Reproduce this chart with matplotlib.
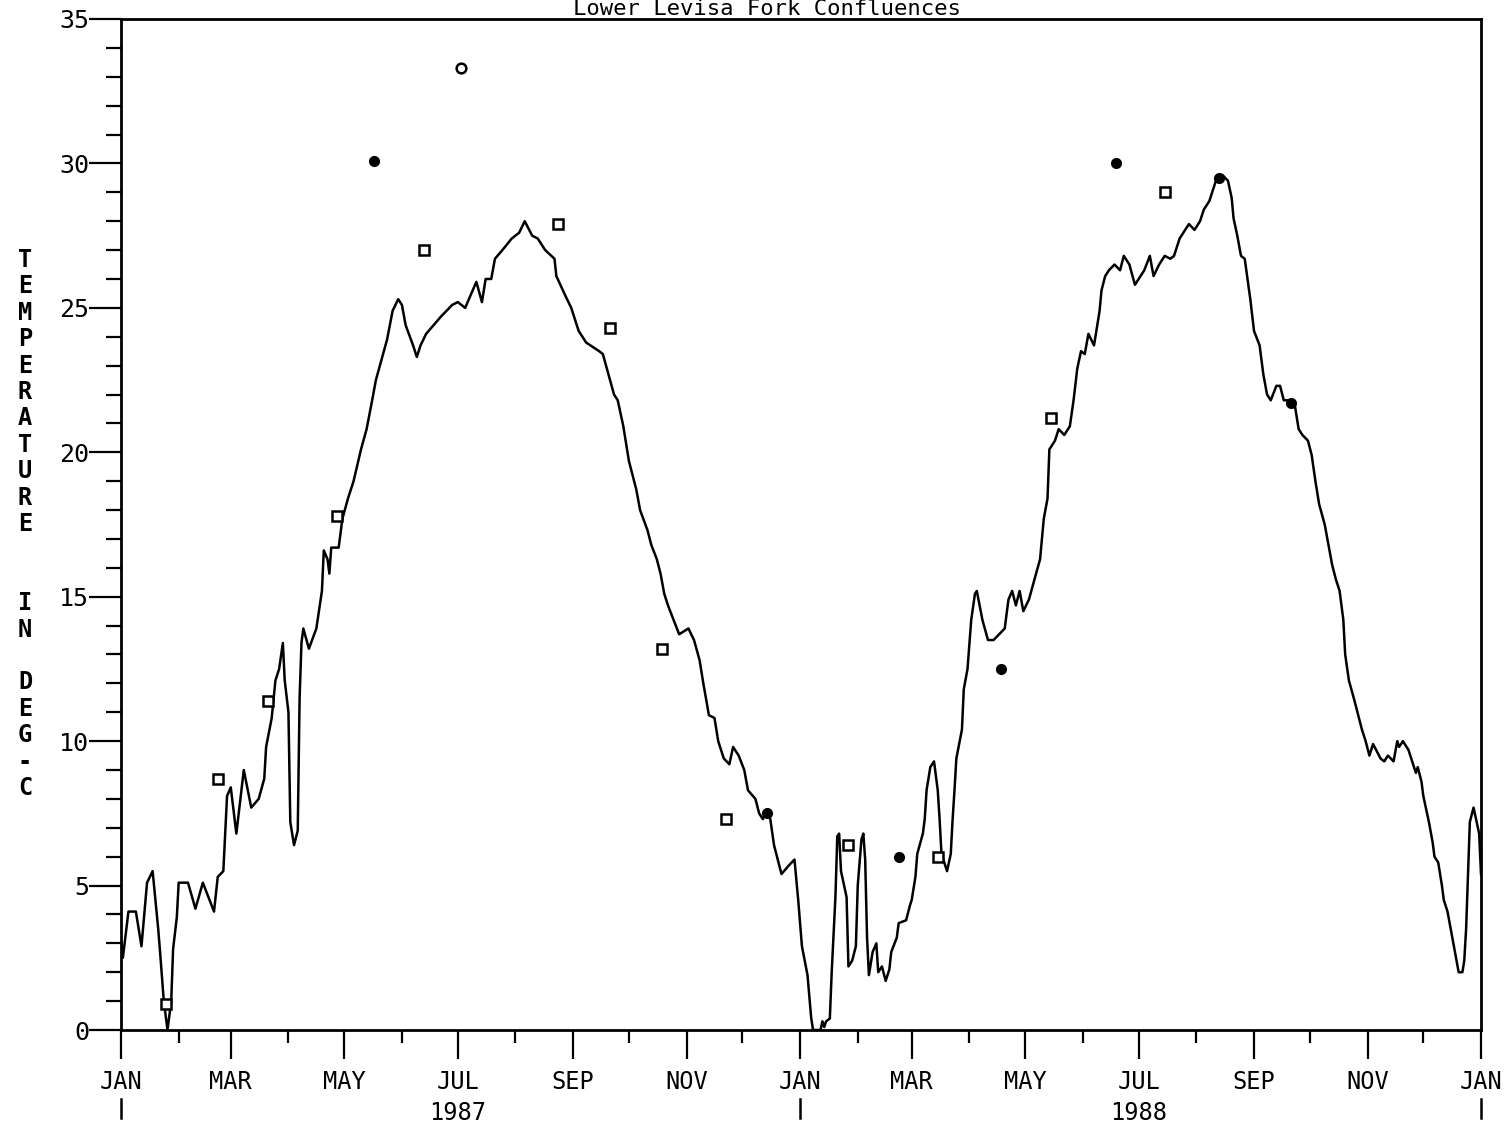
import pandas as pd
import matplotlib
matplotlib.use("Agg")
import matplotlib.pyplot as plt
import matplotlib.dates as mdates

# Titulo e rotulos
titulo = "Lower Levisa Fork Confluences"
inicio = pd.Timestamp("1987-01-01")
fim = pd.Timestamp("1989-01-01")

# Serie diaria (dias desde 1 jan 1987, temperatura em graus C)
dias = [0, 1, 4, 8, 11, 14, 17, 20, 21, 23,
        25, 27, 28, 30, 31, 36, 40, 44, 50, 52,
        55, 57, 59, 62, 66, 70, 74, 77, 78, 81,
        83, 85, 87, 88, 90, 91, 93, 95, 96, 97,
        98, 101, 105, 108, 109, 111, 112, 113, 117, 119,
        122, 125, 129, 132, 135, 137, 140, 143, 146, 149,
        151, 153, 157, 159, 161, 164, 168, 172, 178, 181,
        185, 187, 191, 194, 196, 199, 201, 205, 210, 214,
        217, 221, 224, 228, 233, 234, 239, 242, 246, 250,
        257, 259, 262, 265, 267, 270, 273, 277, 279, 283,
        285, 288, 290, 292, 294, 297, 300, 305, 308, 311,
        313, 316, 319, 321, 324, 327, 329, 332, 335, 337,
        341, 343, 345, 347, 349, 351, 355, 359, 362, 364,
        366, 369, 371, 372, 376, 377, 378, 379, 381, 382,
        384, 385, 386, 387, 390, 391, 393, 395, 396, 398,
        399, 400, 401, 402, 404, 406, 407, 409, 411, 413,
        414, 417, 418, 422, 424, 425, 427, 428, 431, 432,
        433, 435, 437, 439, 440, 441, 444, 446, 447, 448,
        449, 452, 453, 455, 457, 459, 460, 463, 466, 469,
        475, 477, 479, 481, 483, 485, 488, 491, 494, 496,
        498, 499, 502, 504, 507, 510, 512, 514, 516, 518,
        520, 523, 526, 527, 529, 531, 534, 537, 539, 542,
        545, 547, 550, 553, 555, 558, 561, 564, 566, 569,
        572, 574, 577, 580, 582, 585, 587, 589, 592, 595,
        597, 598, 600, 602, 604, 607, 609, 612, 614, 616,
        618, 621, 623, 625, 628, 631, 633, 635, 638, 640,
        642, 644, 647, 649, 651, 653, 655, 657, 658, 660,
        663, 665, 667, 669, 671, 673, 677, 679, 681, 684,
        686, 687, 689, 692, 694, 696, 697, 699, 700, 702,
        703, 705, 706, 708, 710, 711, 713, 715, 717, 719,
        721, 722, 723, 724, 725, 727, 728, 730, 731]
temperatura = [3.1, 2.5, 4.1, 4.1, 2.9, 5.1, 5.5, 3.5, 2.7, 1.0,
               0.0, 1.0, 2.8, 3.9, 5.1, 5.1, 4.2, 5.1, 4.1, 5.3,
               5.5, 8.1, 8.4, 6.8, 9.0, 7.7, 8.0, 8.7, 9.8, 10.8,
               12.1, 12.5, 13.4, 12.1, 11.0, 7.2, 6.4, 6.9, 11.5, 13.4,
               13.9, 13.2, 13.9, 15.2, 16.6, 16.3, 15.8, 16.7, 16.7, 17.7,
               18.4, 19.0, 20.1, 20.8, 21.8, 22.5, 23.2, 23.9, 24.9, 25.3,
               25.1, 24.4, 23.7, 23.3, 23.7, 24.1, 24.4, 24.7, 25.1, 25.2,
               25.0, 25.3, 25.9, 25.2, 26.0, 26.0, 26.7, 27.0, 27.4, 27.6,
               28.0, 27.5, 27.4, 27.0, 26.7, 26.1, 25.4, 25.0, 24.2, 23.8,
               23.5, 23.4, 22.7, 22.0, 21.8, 20.9, 19.7, 18.7, 18.0, 17.3,
               16.8, 16.3, 15.8, 15.1, 14.7, 14.2, 13.7, 13.9, 13.5, 12.8,
               12.0, 10.9, 10.8, 10.0, 9.4, 9.2, 9.8, 9.5, 9.0, 8.3,
               8.0, 7.5, 7.3, 7.6, 7.3, 6.4, 5.4, 5.7, 5.9, 4.5,
               2.9, 1.9, 0.4, 0.0, 0.0, 0.3, 0.1, 0.3, 0.4, 2.0,
               4.6, 6.7, 6.8, 5.5, 4.6, 2.2, 2.4, 2.9, 5.0, 6.6,
               6.8, 5.9, 3.2, 1.9, 2.7, 3.0, 2.0, 2.2, 1.7, 2.1,
               2.7, 3.2, 3.7, 3.8, 4.3, 4.5, 5.3, 6.1, 6.8, 7.3,
               8.3, 9.1, 9.3, 8.3, 7.3, 6.1, 5.5, 6.1, 7.3, 8.3,
               9.4, 10.4, 11.8, 12.5, 14.2, 15.1, 15.2, 14.2, 13.5, 13.5,
               13.9, 14.9, 15.2, 14.7, 15.2, 14.5, 14.9, 15.6, 16.3, 17.7,
               18.4, 20.1, 20.4, 20.8, 20.6, 20.9, 21.8, 22.9, 23.5, 23.4,
               24.1, 23.7, 24.9, 25.6, 26.1, 26.3, 26.5, 26.3, 26.8, 26.5,
               25.8, 26.0, 26.3, 26.8, 26.1, 26.5, 26.8, 26.7, 26.8, 27.4,
               27.7, 27.9, 27.7, 28.0, 28.4, 28.7, 29.1, 29.5, 29.6, 29.4,
               28.8, 28.1, 27.5, 26.8, 26.7, 25.3, 24.2, 23.7, 22.7, 22.0,
               21.8, 22.3, 22.3, 21.8, 21.8, 21.6, 20.8, 20.6, 20.4, 19.9,
               19.0, 18.2, 17.5, 16.8, 16.1, 15.6, 15.2, 14.2, 13.0, 12.1,
               11.4, 10.9, 10.4, 10.0, 9.5, 9.9, 9.4, 9.3, 9.5, 9.3,
               10.0, 9.8, 10.0, 9.7, 9.3, 8.9, 9.1, 8.6, 8.1, 7.5,
               7.2, 6.5, 6.0, 5.8, 5.0, 4.5, 4.1, 3.4, 2.7, 2.0,
               2.0, 2.4, 3.5, 5.4, 7.2, 7.7, 7.4, 6.8, 5.4]

# Medicoes pontuais (quadrados abertos)
dias_quadrado = [24, 52, 79, 116, 163, 235, 263, 291, 325, 391, 439, 500, 561]
temp_quadrado = [0.9, 8.7, 11.4, 17.8, 27.0, 27.9, 24.3, 13.2, 7.3, 6.4, 6.0, 21.2, 29.0]

# Medicoes pontuais (circulos cheios)
dias_ponto = [136, 347, 418, 473, 535, 590, 629]
temp_ponto = [30.1, 7.5, 6.0, 12.5, 30.0, 29.5, 21.7]

# Medicao pontual (circulo aberto)
dias_circulo = [183]
temp_circulo = [33.3]

meses = ["JAN", "FEB", "MAR", "APR", "MAY", "JUN",
         "JUL", "AUG", "SEP", "OCT", "NOV", "DEC"]

rotulo_y = ["T", "E", "M", "P", "E", "R", "A", "T", "U", "R", "E", "", "",
            "I", "N", "", "D", "E", "G", "-", "C"]


def para_datas(d):
    return inicio + pd.to_timedelta(d, unit="D")


plt.rcParams["font.family"] = ["DejaVu Sans Mono"]

fig = plt.figure(figsize=(15.1, 11.3), dpi=100)
ax = fig.add_axes([121 / 1510, 1 - 1030 / 1130, (1481 - 121) / 1510, (1030 - 19) / 1130])

ax.plot(para_datas(dias), temperatura, color="black", linewidth=1.8)
ax.plot(para_datas(dias_quadrado), temp_quadrado, linestyle="none", marker="s",
        markersize=7, markerfacecolor="white", markeredgecolor="black", markeredgewidth=1.8)
ax.plot(para_datas(dias_ponto), temp_ponto, linestyle="none", marker="o",
        markersize=7, color="black")
ax.plot(para_datas(dias_circulo), temp_circulo, linestyle="none", marker="o",
        markersize=7, markerfacecolor="white", markeredgecolor="black", markeredgewidth=1.8)

ax.set_xlim(inicio, fim)
ax.set_ylim(0, 35)

for s in ax.spines.values():
    s.set_linewidth(2)

# eixo y
ax.set_yticks(range(0, 36, 5))
ax.set_yticks(range(0, 36), minor=True)
ax.tick_params(axis="y", which="major", length=23, width=1.6, pad=0, labelsize=18)
ax.tick_params(axis="y", which="minor", length=11, width=1.6)

# eixo x
ax.xaxis.set_major_locator(mdates.MonthLocator(bymonth=[1, 3, 5, 7, 9, 11]))
ax.xaxis.set_minor_locator(mdates.MonthLocator(bymonth=[2, 4, 6, 8, 10, 12]))


def formata_mes(x, pos=None):
    d = mdates.num2date(x)
    txt = meses[d.month - 1]
    if d.month == 7:
        txt += "\n" + str(d.year)
    return txt


ax.xaxis.set_major_formatter(plt.FuncFormatter(formata_mes))
ax.tick_params(axis="x", which="major", length=21, width=1.6, pad=8, labelsize=17)
ax.tick_params(axis="x", which="minor", length=9, width=1.6)
for lab in ax.get_xticklabels():
    lab.set_verticalalignment("top")
    lab.set_linespacing(1.35)

# marcas de inicio de ano abaixo de JAN
for ano in [1987, 1988, 1989]:
    ax.plot([pd.Timestamp(f"{ano}-01-01")] * 2, [-0.068, -0.087],
            transform=ax.get_xaxis_transform(), color="black", linewidth=1.8, clip_on=False)

# titulo no topo
fig.text(767 / 1510, 1 - 9 / 1130, titulo, ha="center", va="center", fontsize=16)

# rotulo vertical, uma letra por linha
passo = 26.4 / 1130
for i, ch in enumerate(rotulo_y):
    fig.text(25 / 1510, 1 - 260 / 1130 - i * passo, ch, ha="center", va="center",
             fontsize=17, fontweight="bold")

fig.savefig("out.png", dpi=100)
